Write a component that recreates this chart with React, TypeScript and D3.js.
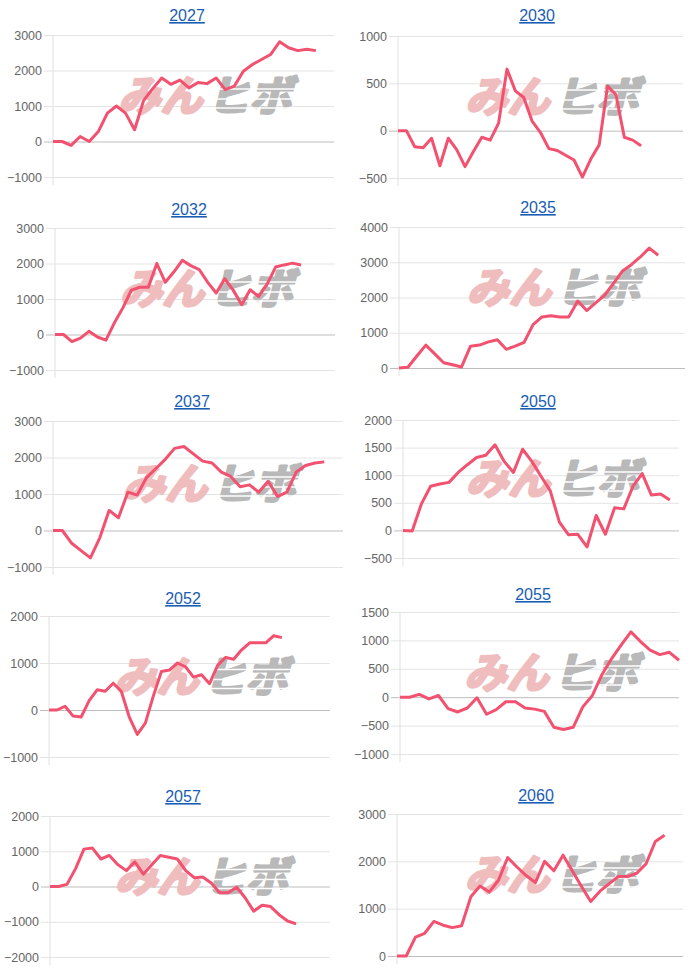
import { useEffect, useRef } from "react";
import * as d3 from "d3";

const titles = ["2027", "2030", "2032", "2035", "2037", "2050", "2052", "2055", "2057", "2060"];

const values2027 = [0, 0, -110, 140, 0, 280, 800, 1000, 800, 330, 1160, 1490, 1790, 1610, 1730, 1510, 1660, 1630, 1790, 1460, 1560, 1980, 2170, 2310, 2450, 2810, 2640, 2560, 2600, 2560];
const values2030 = [0, 0, -170, -180, -80, -370, -80, -200, -380, -220, -70, -100, 80, 650, 420, 350, 100, -20, -190, -210, -260, -310, -490, -300, -150, 470, 380, -70, -100, -160];
const values2032 = [0, 0, -200, -100, 90, -70, -160, 330, 750, 1250, 1330, 1330, 2000, 1470, 1760, 2090, 1940, 1830, 1470, 1170, 1570, 1250, 840, 1260, 1070, 1420, 1900, 1960, 2010, 1960];
const values2035 = [0, 20, 340, 650, 400, 150, 90, 30, 620, 650, 740, 800, 530, 620, 730, 1230, 1450, 1480, 1450, 1450, 1900, 1630, 1850, 2060, 2400, 2750, 2930, 3150, 3400, 3200];
const values2037 = [0, 0, -350, -550, -750, -200, 550, 350, 1050, 970, 1450, 1700, 1950, 2250, 2300, 2100, 1900, 1850, 1600, 1480, 1200, 1250, 1050, 1350, 930, 1050, 1600, 1780, 1850, 1880];
const values2050 = [0, -10, 480, 800, 840, 870, 1050, 1190, 1320, 1360, 1550, 1250, 1050, 1470, 1250, 980, 720, 150, -80, -70, -300, 270, -70, 410, 390, 800, 1030, 640, 660, 550];
const values2052 = [0, 0, 80, -130, -150, 200, 430, 400, 570, 400, -150, -520, -280, 300, 820, 850, 1000, 920, 700, 750, 560, 950, 1120, 1080, 1280, 1430, 1430, 1430, 1580, 1540];
const values2055 = [0, 0, 50, -30, 30, -200, -260, -190, -10, -300, -220, -80, -80, -190, -210, -250, -530, -570, -530, -170, 30, 400, 680, 920, 1150, 980, 830, 750, 790, 650];
const values2057 = [0, 0, 60, 500, 1060, 1090, 780, 880, 620, 450, 700, 350, 620, 880, 830, 780, 450, 250, 270, 100, -180, -180, -20, -320, -700, -530, -570, -800, -980, -1060];
const values2060 = [0, 0, 400, 480, 730, 650, 600, 640, 1250, 1480, 1350, 1600, 2080, 1880, 1700, 1550, 2000, 1800, 2130, 1800, 1470, 1150, 1370, 1530, 1680, 1680, 1750, 1950, 2420, 2550];

const seriesValues = [values2027, values2030, values2032, values2035, values2037, values2050, values2052, values2055, values2057, values2060];

const tickValues = [
    [-1000, 0, 1000, 2000, 3000],
    [-500, 0, 500, 1000],
    [-1000, 0, 1000, 2000, 3000],
    [0, 1000, 2000, 3000, 4000],
    [-1000, 0, 1000, 2000, 3000],
    [-500, 0, 500, 1000, 1500, 2000],
    [-1000, 0, 1000, 2000],
    [-1000, -500, 0, 500, 1000, 1500],
    [-2000, -1000, 0, 1000, 2000],
    [0, 1000, 2000, 3000],
];

// number of x labels on each chart (data only fills part of them)
const labelCounts = [32, 35, 34, 33, 32, 31, 36, 30, 34, 32];

// plot box of every small chart, in page pixels
const boxes = [
    { left: 53, right: 334, top: 35, bottom: 177, tx: 187, ty: 15 },
    { left: 398, right: 683, top: 36, bottom: 178, tx: 537, ty: 15 },
    { left: 55, right: 335, top: 228, bottom: 370, tx: 189, ty: 209 },
    { left: 399, right: 685, top: 227, bottom: 368, tx: 538, ty: 207 },
    { left: 53, right: 343, top: 421, bottom: 567, tx: 192, ty: 401 },
    { left: 403, right: 679, top: 420, bottom: 558, tx: 538, ty: 401 },
    { left: 49, right: 330, top: 616, bottom: 757, tx: 183, ty: 598 },
    { left: 400, right: 679, top: 612, bottom: 754, tx: 533, ty: 594 },
    { left: 50, right: 330, top: 816, bottom: 957, tx: 183, ty: 796 },
    { left: 397, right: 683, top: 814, bottom: 956, tx: 536, ty: 795 },
];

const LINE_COLOR = "#f2516f";
const FONT = "'Liberation Sans', Arial, Helvetica, sans-serif";

const App = () => {
    const chartRef = useRef<SVGSVGElement | null>(null);

    useEffect(() => {
        const svg = d3.select(chartRef.current);
        svg.selectAll("*").remove();

        titles.forEach((title, i) => {
            const b = boxes[i];
            const ticks = tickValues[i];
            const values = seriesValues[i];
            const g = svg.append("g");

            const x = d3.scaleLinear()
                .domain([0, labelCounts[i] - 1])
                .range([b.left, b.right]);

            const y = d3.scaleLinear()
                .domain(d3.extent(ticks) as [number, number])
                .range([b.bottom, b.top]);

            // grid + tick labels
            const axis = g.append("g")
                .attr("transform", `translate(${b.left - 9},0)`)
                .call(d3.axisLeft(y)
                    .tickValues(ticks)
                    .tickSizeInner(-(b.right - b.left + 9))
                    .tickSizeOuter(0)
                    .tickPadding(2)
                    .tickFormat(d3.format("d")));

            axis.select(".domain").remove();
            axis.selectAll(".tick line")
                .attr("stroke", (d: any) => (d === 0 ? "#bdbdbd" : "#e4e4e4"))
                .attr("stroke-width", 1);
            axis.selectAll(".tick text")
                .attr("fill", "#666")
                .style("font-family", FONT)
                .style("font-size", "12.5px");

            // left axis border
            g.append("line")
                .attr("x1", b.left)
                .attr("x2", b.left)
                .attr("y1", b.top)
                .attr("y2", b.bottom + 8)
                .attr("stroke", "#e0e0e0");

            // watermark
            const wx = (b.left + b.right) / 2 + 12;
            const wy = (b.top + b.bottom) / 2 - 10;
            const wm = g.append("g")
                .attr("transform", `translate(${wx},${wy + 15}) skewX(-14)`)
                .style("font-family", "'Noto Sans CJK JP', sans-serif")
                .style("font-weight", 700)
                .style("font-size", "42px");
            wm.append("text")
                .attr("x", -3)
                .attr("text-anchor", "end")
                .attr("fill", "#efbdbd")
                .attr("stroke", "#efbdbd")
                .attr("stroke-width", 3)
                .attr("stroke-linejoin", "round")
                .text("みん");
            wm.append("text")
                .attr("x", 2)
                .attr("text-anchor", "start")
                .attr("fill", "#b9b9b9")
                .attr("stroke", "#b9b9b9")
                .attr("stroke-width", 3)
                .attr("stroke-linejoin", "round")
                .text("ヒボ");
            [-22, -12, -3, 6].forEach(dy => {
                wm.append("line")
                    .attr("x1", 0)
                    .attr("x2", 88)
                    .attr("y1", dy)
                    .attr("y2", dy)
                    .attr("stroke", "white")
                    .attr("stroke-width", 1.4);
            });

            // title
            g.append("text")
                .attr("x", b.tx)
                .attr("y", b.ty + 6)
                .attr("text-anchor", "middle")
                .attr("fill", "#1a5db4")
                .style("font-family", FONT)
                .style("font-size", "16px")
                .style("text-decoration", "underline")
                .text(title);

            const line = d3.line<number>()
                .x((d, j) => x(j))
                .y(d => y(d));

            g.append("path")
                .datum(values)
                .attr("d", line)
                .attr("fill", "none")
                .attr("stroke", LINE_COLOR)
                .attr("stroke-width", 3)
                .attr("stroke-linejoin", "round");
        });

        return () => {
            d3.select(chartRef.current).selectAll("*").remove();
        };
    }, []);

    return (
        <svg
            ref={chartRef}
            width={700}
            height={973}
            style={{ position: "absolute", left: 0, top: 0, background: "white" }}
        ></svg>
    );
};

export default App;
